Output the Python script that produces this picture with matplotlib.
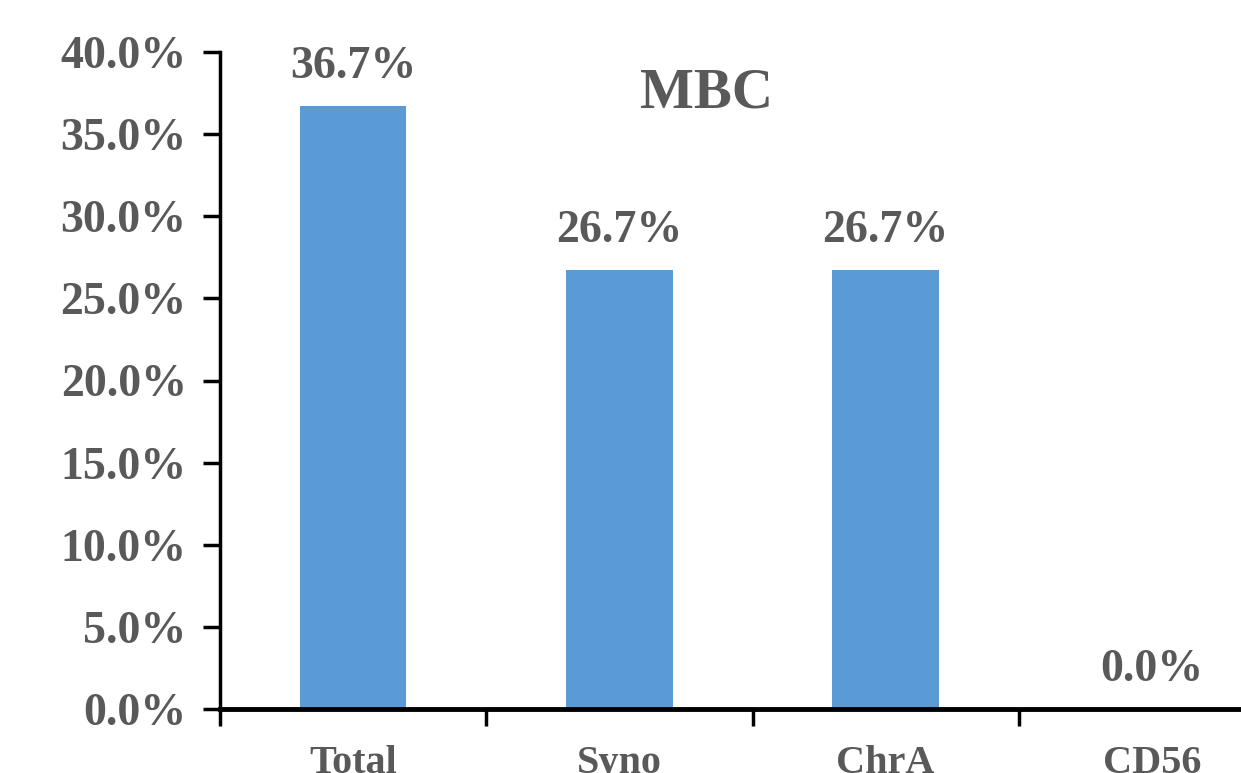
import matplotlib
matplotlib.use("Agg")
import matplotlib.pyplot as plt
import numpy as np
from matplotlib.ticker import FuncFormatter, FixedLocator

categories = ["Total", "Syno", "ChrA", "CD56"]
positive_rates = [36.7, 26.7, 26.7, 0.0]
title = "MBC"

text_color = "#595959"
bar_color = "#5B9BD5"

plt.rcParams["font.family"] = ["Liberation Serif", "DejaVu Serif"]
plt.rcParams["font.weight"] = "bold"

fig = plt.figure(figsize=(12.41, 7.73), dpi=100)
# axes run past the right edge of the canvas, like the cropped original
ax = fig.add_axes([220 / 1241, 64 / 773, 1065 / 1241, 657 / 773])

x = np.arange(len(categories))
bars = ax.bar(x, positive_rates, width=0.4, color=bar_color, zorder=2)

for bar, val in zip(bars, positive_rates):
    ax.annotate(
        f"{val:.1f}%",
        xy=(bar.get_x() + bar.get_width() / 2, val),
        xytext=(0, 13),
        textcoords="offset points",
        ha="center",
        va="bottom",
        fontsize=33,
        fontweight="bold",
        color=text_color,
    )

ax.set_xlim(-0.5, len(categories) - 0.5)
ax.set_ylim(0, 40)
ax.set_yticks(np.arange(0, 40.1, 5))
ax.yaxis.set_major_formatter(FuncFormatter(lambda v, _: f"{v:.1f}%"))

# category names at the centres, tick marks between categories
ax.set_xticks(x)
ax.set_xticklabels(categories)
ax.xaxis.set_minor_locator(FixedLocator(np.arange(-0.5, len(categories), 1.0)))
ax.tick_params(axis="x", which="major", length=0, pad=26, labelsize=29,
               labelcolor=text_color)
ax.tick_params(axis="x", which="minor", direction="out", length=12, width=2.5,
               color="black")
ax.tick_params(axis="y", direction="out", length=12, width=2.5, pad=12,
               labelsize=33, labelcolor=text_color)
for lbl in ax.get_xticklabels() + ax.get_yticklabels():
    lbl.set_fontweight("bold")

for side in ["top", "right"]:
    ax.spines[side].set_visible(False)
ax.spines["left"].set_linewidth(2.5)
ax.spines["bottom"].set_linewidth(3.5)
ax.spines["bottom"].set_zorder(3)

fig.text(707 / 1241, 1 - 108 / 773, title, ha="center", va="baseline",
         fontsize=41, fontweight="bold", color=text_color)

fig.savefig("out.png", dpi=100)
